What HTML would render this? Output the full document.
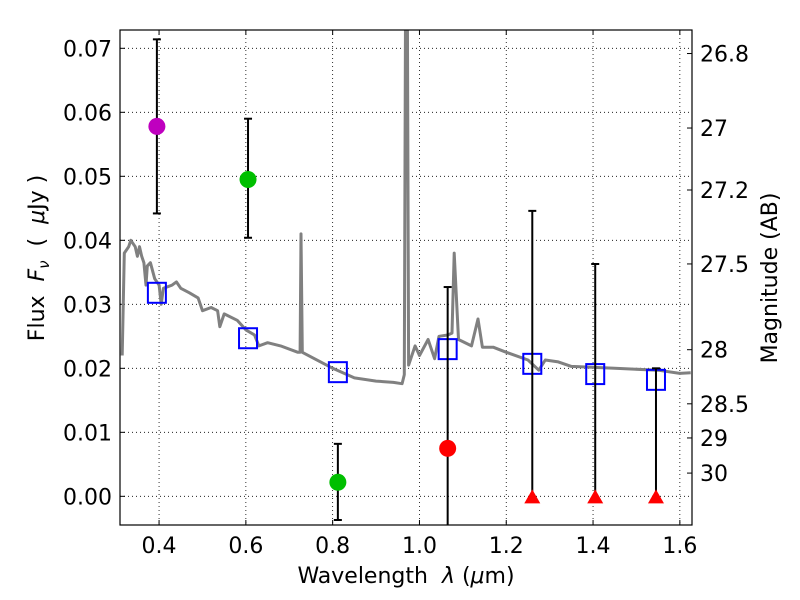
<!DOCTYPE html>
<html><head><meta charset="utf-8"><style>
body{margin:0;background:#fff;}
svg{display:block;font-family:"DejaVu Sans","Liberation Sans",sans-serif;}
</style></head><body>
<svg id="chart" width="800" height="600" viewBox="0 0 800 600" xmlns="http://www.w3.org/2000/svg"></svg>
<script>
const xTicks=[0.4,0.6,0.8,1.0,1.2,1.4,1.6];
const xTickLabels=["0.4","0.6","0.8","1.0","1.2","1.4","1.6"];
const yTicks=[0,0.01,0.02,0.03,0.04,0.05,0.06,0.07];
const yTickLabels=["0.00","0.01","0.02","0.03","0.04","0.05","0.06","0.07"];
const magTicks=[26.8,27,27.2,27.5,28,28.5,29,30];
const magLabels=["26.8","27","27.2","27.5","28","28.5","29","30"];
const specWave=[0.315,0.320,0.33,0.335,0.345,0.35,0.355,0.36,0.365,0.37,0.373,0.38,0.39,0.40,0.405,0.41,0.43,0.44,0.45,0.47,0.49,0.50,0.52,0.535,0.54,0.55,0.58,0.60,0.62,0.63,0.65,0.68,0.72,0.725,0.727,0.730,0.80,0.85,0.90,0.94,0.96,0.965,0.968,0.972,0.975,0.99,1.0,1.02,1.035,1.045,1.065,1.075,1.080,1.09,1.12,1.135,1.145,1.17,1.2,1.25,1.275,1.29,1.32,1.35,1.45,1.55,1.60,1.625];
const specFlux=[0.022,0.038,0.039,0.040,0.039,0.0375,0.039,0.0375,0.0365,0.033,0.036,0.0365,0.034,0.033,0.030,0.0325,0.033,0.0335,0.0325,0.0318,0.031,0.029,0.0295,0.029,0.0265,0.0285,0.0275,0.026,0.0252,0.0235,0.024,0.0235,0.0225,0.0225,0.041,0.0225,0.020,0.0185,0.0180,0.0178,0.0176,0.019,0.08,0.08,0.0205,0.0235,0.022,0.0245,0.0215,0.025,0.0252,0.0255,0.038,0.0245,0.0235,0.0277,0.0233,0.0233,0.0225,0.0213,0.0197,0.0213,0.021,0.0203,0.0200,0.0197,0.0192,0.0193];
const obsWave=[0.395,0.605,0.812,1.065];
const obsFlux=[0.0578,0.0495,0.0022,0.0075];
const obsLo=[0.0442,0.0404,-0.0037,-0.01];
const obsHi=[0.0714,0.059,0.0082,0.0327];
const obsColor=["#bf00bf","#00bf00","#00bf00","#ff0000"];
const limWave=[1.26,1.405,1.545];
const limFlux=[0,0,0];
const limHi=[0.0446,0.0363,0.0200];
const modWave=[0.395,0.605,0.812,1.065,1.26,1.405,1.545];
const modFlux=[0.0318,0.0247,0.0194,0.0230,0.0207,0.0191,0.0182];

const L=120,R=692,T=30,B=525;
const X0=0.31,X1=1.628,Y0=-0.00448,Y1=0.07286;
const sx=v=>L+(v-X0)/(X1-X0)*(R-L);
const sy=v=>B-(v-Y0)/(Y1-Y0)*(B-T);
const svg=document.getElementById('chart');
const NS='http://www.w3.org/2000/svg';
function mk(tag,attrs,parent){const e=document.createElementNS(NS,tag);for(const k in attrs)e.setAttribute(k,attrs[k]);(parent||svg).appendChild(e);return e;}
const defs=mk('defs',{});const cp=mk('clipPath',{id:'clip'},defs);mk('rect',{x:L,y:T,width:R-L,height:B-T},cp);
xTicks.forEach((v,i)=>{
 const g=mk('line',{x1:sx(v),x2:sx(v),y1:T,y2:B,stroke:'#000','stroke-width':0.8,'stroke-dasharray':'1,3'});
 
 mk('line',{x1:sx(v),x2:sx(v),y1:B,y2:B-5,stroke:'#000'});mk('line',{x1:sx(v),x2:sx(v),y1:T,y2:T+5,stroke:'#000'});
 const t=mk('text',{x:sx(v),y:B+28,'text-anchor':'middle','font-size':22});t.textContent=xTickLabels[i];
 
});
yTicks.forEach((v,i)=>{
 const g=mk('line',{x1:L,x2:R,y1:sy(v),y2:sy(v),stroke:'#000','stroke-width':0.8,'stroke-dasharray':'1,3'});
 
 mk('line',{x1:L,x2:L+5,y1:sy(v),y2:sy(v),stroke:'#000'});
 const t=mk('text',{x:L-8,y:sy(v)+8,'text-anchor':'end','font-size':22});t.textContent=yTickLabels[i];
 
});
magTicks.forEach((m,i)=>{
 const f=Math.pow(10,(23.9-m)/2.5);const y=sy(f);
 mk('line',{x1:R,x2:R-5,y1:y,y2:y,stroke:'#000'});
 const t=mk('text',{x:R+8,y:y+8,'font-size':22});t.textContent=magLabels[i];
 
});
const pts=specWave.map((w,i)=>sx(w).toFixed(1)+','+sy(specFlux[i]).toFixed(1)).join(' ');
const sp=mk('polyline',{points:pts,fill:'none',stroke:'#808080','stroke-width':3,'stroke-linejoin':'round','clip-path':'url(#clip)'});

modWave.forEach((w,i)=>{const r=mk('rect',{x:sx(w)-9,y:sy(modFlux[i])-10,width:18,height:20,fill:'none',stroke:'#0000ff','stroke-width':2});
 });
obsWave.forEach((w,i)=>{
 const x=sx(w);
 const e=mk('line',{x1:x,x2:x,y1:sy(obsLo[i]),y2:sy(obsHi[i]),stroke:'#000','stroke-width':2,'clip-path':'url(#clip)'});
 
 [obsLo[i],obsHi[i]].forEach(v=>{if(v>Y0)mk('line',{x1:x-4,x2:x+4,y1:sy(v),y2:sy(v),stroke:'#000','stroke-width':2});});
 const c=mk('circle',{cx:x,cy:sy(obsFlux[i]),r:8.5,fill:obsColor[i]});
 
});
limWave.forEach((w,i)=>{
 const x=sx(w),y=sy(limFlux[i]);
 const e=mk('line',{x1:x,x2:x,y1:y,y2:sy(limHi[i]),stroke:'#000','stroke-width':2});
 
 mk('line',{x1:x-4,x2:x+4,y1:sy(limHi[i]),y2:sy(limHi[i]),stroke:'#000','stroke-width':2});
 const p=mk('polygon',{points:`${x-8},${y+7} ${x+8},${y+7} ${x},${y-7}`,fill:'#ff0000'});
 
});
const fr=mk('rect',{x:L,y:T,width:R-L,height:B-T,fill:'none',stroke:'#000','stroke-width':1.2});

const xl=mk('text',{x:406,y:583,'text-anchor':'middle','font-size':22});
xl.innerHTML='Wavelength\u00a0\u00a0<tspan font-style="italic">λ</tspan>\u00a0(<tspan font-style="italic">μ</tspan>m)';

const yl=mk('text',{x:0,y:0,'text-anchor':'middle','font-size':22,transform:'translate(44,258) rotate(-90)'});
yl.innerHTML='Flux\u00a0\u00a0<tspan font-style="italic">F</tspan><tspan font-style="italic" font-size="15" dy="5">ν</tspan><tspan dy="-5">\u00a0\u00a0(\u00a0\u00a0</tspan><tspan font-style="italic">μ</tspan>Jy )';

const rl=mk('text',{x:0,y:0,'text-anchor':'middle','font-size':22,transform:'translate(777,278) rotate(-90)'});
rl.textContent='Magnitude (AB)';

</script>
</body></html>
